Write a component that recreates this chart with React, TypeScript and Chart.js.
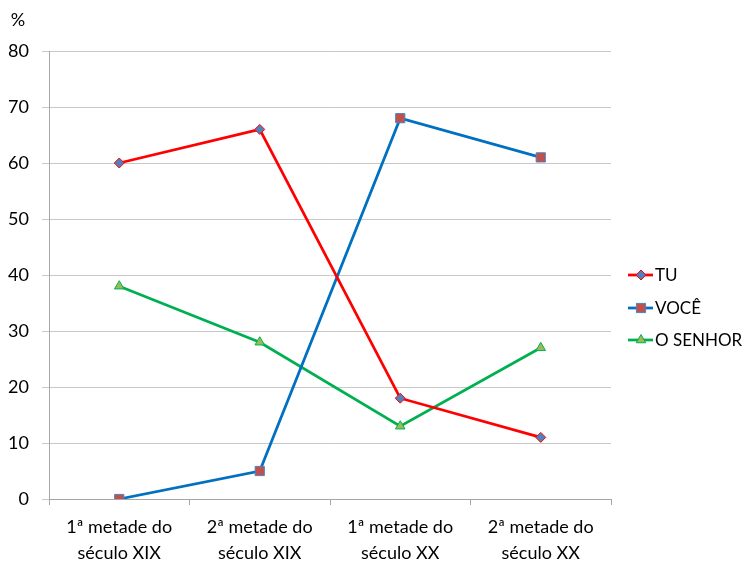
import React, { useEffect, useRef } from "react";
import { Chart, registerables } from "chart.js";
import { drawPoint } from "chart.js/helpers";

Chart.register(...registerables);

const categories: string[][] = [
  ["1ª metade do", "século XIX"],
  ["2ª metade do", "século XIX"],
  ["1ª metade do", "século XX"],
  ["2ª metade do", "século XX"],
];
const tuValues = [60, 66, 18, 11];
const voceValues = [0, 5, 68, 61];
const senhorValues = [38, 28, 13, 27];
const seriesNames = ["TU", "VOCÊ", "O SENHOR"];
const yUnit = "%";

const FONT = "Lato, 'Open Sans', sans-serif";

export default function App() {
  const ref = useRef<HTMLCanvasElement | null>(null);
  useEffect(() => {
    if (!ref.current) return;
    const extraPlugin = {
      id: "extras",
      afterDraw(chart: any) {
        const ctx = chart.ctx;
        ctx.save();
        ctx.fillStyle = "#000";
        ctx.font = `18px ${FONT}`;
        ctx.textAlign = "center";
        ctx.textBaseline = "middle";
        ctx.fillText(yUnit, 18, 20);
        // legend
        const ys = [275, 308, 340];
        chart.data.datasets.forEach((ds: any, i: number) => {
          const y = ys[i];
          ctx.strokeStyle = ds.borderColor;
          ctx.lineWidth = 2.75;
          ctx.beginPath();
          ctx.moveTo(628, y);
          ctx.lineTo(653, y);
          ctx.stroke();
          ctx.fillStyle = ds.pointBackgroundColor;
          ctx.strokeStyle = ds.pointBorderColor;
          ctx.lineWidth = 1;
          drawPoint(ctx, { pointStyle: ds.pointStyle, rotation: 0, radius: ds.pointRadius, borderWidth: 1 }, 641, y);
          ctx.fillStyle = "#000";
          ctx.font = `17px ${FONT}`;
          ctx.textAlign = "left";
          ctx.textBaseline = "middle";
          ctx.fillText(ds.label, 655, y + 1);
        });
        ctx.restore();
      },
    };
    const chart = new Chart(ref.current, {
      type: "line",
      data: {
        labels: categories,
        datasets: [
          {
            label: seriesNames[0],
            data: tuValues,
            borderColor: "#FF0000",
            borderWidth: 2.75,
            pointStyle: "rectRot",
            pointRadius: 5,
            pointBackgroundColor: "#4F81BD",
            pointBorderColor: "#FF0000",
            pointBorderWidth: 1,
            tension: 0,
          },
          {
            label: seriesNames[1],
            data: voceValues,
            borderColor: "#0070C0",
            borderWidth: 2.75,
            pointStyle: "rect",
            pointRadius: 6.5,
            pointBackgroundColor: "#C0504D",
            pointBorderColor: "#4F81BD",
            pointBorderWidth: 1,
            tension: 0,
          },
          {
            label: seriesNames[2],
            data: senhorValues,
            borderColor: "#00B050",
            borderWidth: 2.75,
            pointStyle: "triangle",
            pointRadius: 5.5,
            pointBackgroundColor: "#9BBB59",
            pointBorderColor: "#00B050",
            pointBorderWidth: 1,
            tension: 0,
          },
        ],
      },
      options: {
        animation: false,
        responsive: false,
        layout: { padding: { left: 0, right: 134, top: 51, bottom: 0 } },
        plugins: { legend: { display: false }, tooltip: { enabled: false } },
        scales: {
          x: {
            offset: true,
            grid: {
              offset: true,
              drawOnChartArea: false,
              drawTicks: true,
              tickLength: 6,
              color: "#A6A6A6",
            },
            border: { color: "#A6A6A6", width: 1 },
            ticks: {
              color: "#000",
              font: { family: FONT, size: 18, lineHeight: 1.4 },
              padding: 10,
              maxRotation: 0,
              autoSkip: false,
            },
            afterFit(scale: any) {
              scale.height = 65;
            },
          },
          y: {
            min: 0,
            max: 80,
            ticks: {
              stepSize: 10,
              color: "#000",
              font: { family: FONT, size: 18 },
              padding: 13,
            },
            grid: { color: "#C8C8C8", tickLength: 7, lineWidth: 1 },
            border: { color: "#A6A6A6", width: 1 },
            afterFit(scale: any) {
              scale.width = 49;
            },
          },
        },
      },
      plugins: [extraPlugin],
    } as any);
    return () => chart.destroy();
  }, []);
  return (
    <div style={{ position: "absolute", left: 0, top: 0, width: 745, height: 564, background: "#fff" }}>
      <canvas ref={ref} width={745} height={564} style={{ display: "block" }} />
    </div>
  );
}
